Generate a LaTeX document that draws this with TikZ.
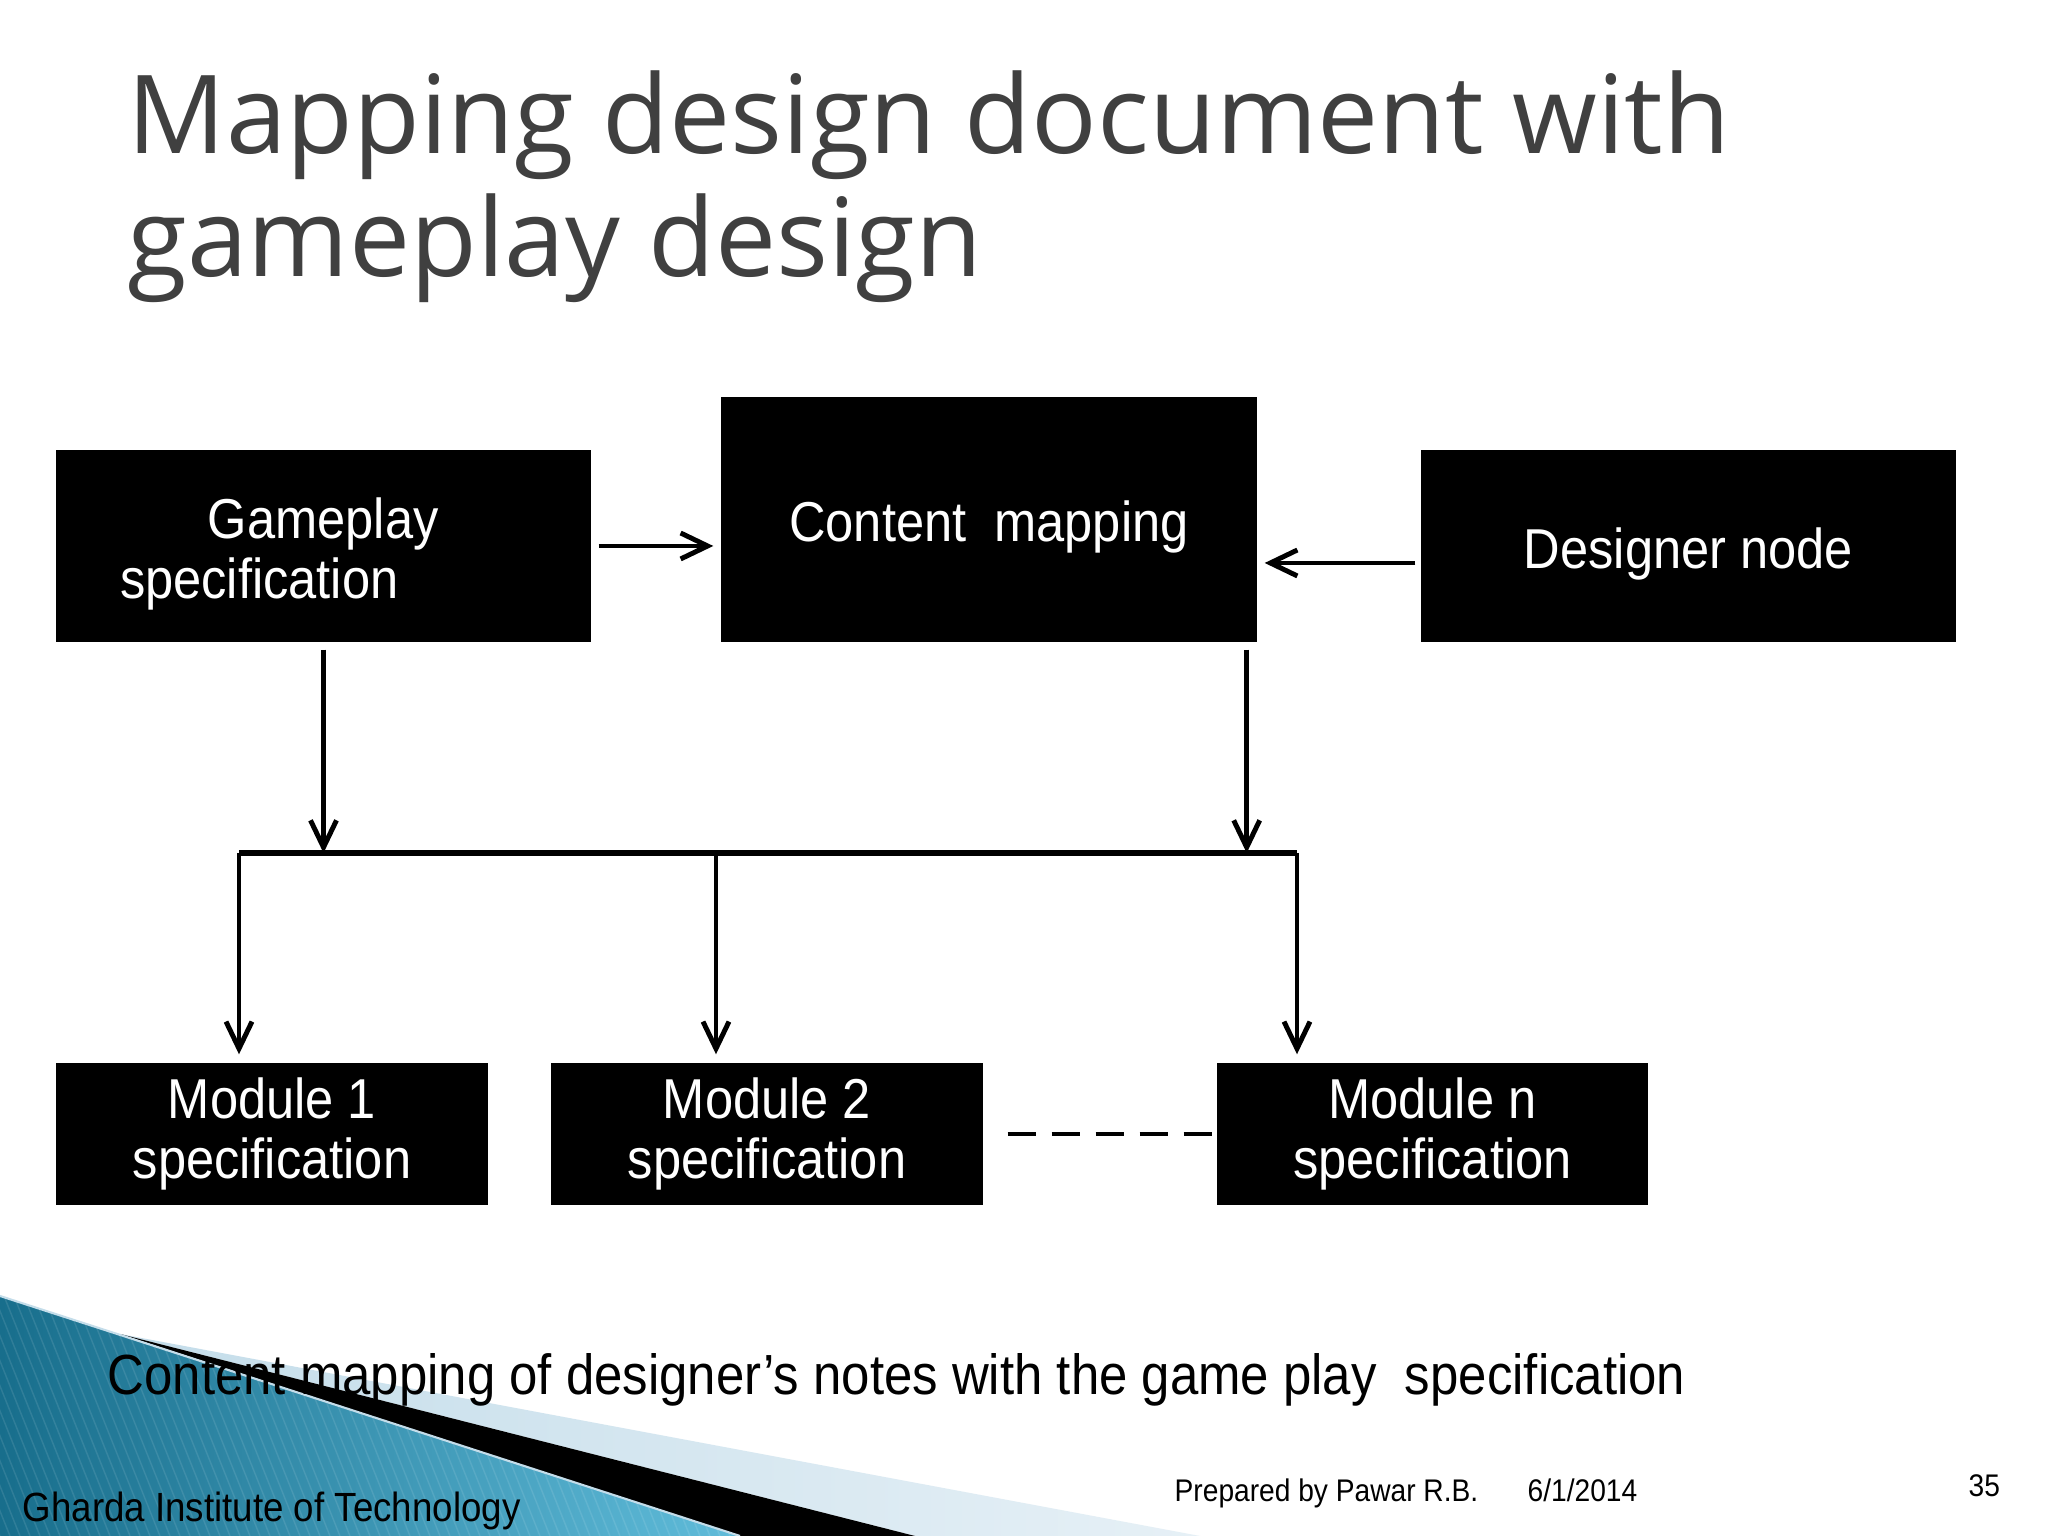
\documentclass[tikz,border=0pt]{standalone}
\usepackage{fontspec}
\setmainfont{Liberation Sans}[FakeStretch=0.9]
\newfontfamily\titlefont{Open Sans}
\usetikzlibrary{arrows.meta}

\definecolor{titlegray}{RGB}{64,64,64}
\definecolor{tealdark}{RGB}{24,110,140}
\definecolor{teallight}{RGB}{96,188,218}
\definecolor{paleblue}{RGB}{196,221,234}
\definecolor{palelight}{RGB}{230,240,246}

\begin{document}
\begin{tikzpicture}[
        box/.style={fill=black,draw=black,text=white,inner sep=0pt,align=center,
            font=\fontsize{16}{17}\selectfont,
            execute at begin node={\rule{0pt}{16.1pt}}},
        bigbox/.style={box,minimum width=5.33cm,minimum height=1.90cm},
        modbox/.style={box,minimum width=4.30cm,minimum height=1.40cm},
        conn/.style={line width=1.4pt,-{Straight Barb[length=0.27cm,width=0.26cm]}},
        foot/.style={inner sep=0pt,anchor=base west}
    ]
    \useasboundingbox (0, 0) rectangle (20.48, 15.36);
    \fill[white] (0, 0) rectangle (20.48, 15.36);

    % Hintergrund unten links
    \shade[left color=tealdark,right color=teallight] (0, 2.40) -- (7.40, 0) -- (0, 0) -- cycle;
    \begin{scope}
        \clip (0, 2.40) -- (7.40, 0) -- (0, 0) -- cycle;
        \foreach \i in {-1.2,-1.1,...,7.5}
            \draw[white,opacity=0.10,line width=0.4pt] (\i, 2.5) -- ++(1.0, -2.5);
    \end{scope}
    \shade[left color=paleblue,right color=palelight] (1.20, 2.02) -- (12.00, 0) -- (9.15, 0) -- cycle;
    \fill[black] (1.20, 2.02) -- (9.15, 0) -- (7.40, 0) -- cycle;
    \draw[paleblue,line width=0.6pt] (0, 2.40) -- (7.40, 0);

    % Titel
    \node[foot,text=titlegray,font=\titlefont\fontsize{31}{36}\selectfont] (title1) at (1.27, 13.82) {Mapping design document with};
    \node[foot,text=titlegray,font=\titlefont\fontsize{31}{36}\selectfont] (title2) at (1.27, 12.59) {gameplay design};

    % Kaesten
    \node[bigbox,text width=4.07cm,inner xsep=0.63cm,align=left] (gameplay) at (3.235, 9.90) {\hspace*{25pt}Gameplay\\specification};
    \node[bigbox,minimum width=5.34cm,minimum height=2.43cm] (content) at (9.89, 10.165) {Content\ \ mapping};
    \node[bigbox] (designer) at (16.885, 9.90) {Designer node};

    \node[modbox] (mod1) at (2.72, 4.02) {Module 1\\specification};
    \node[modbox] (mod2) at (7.67, 4.02) {Module 2\\specification};
    \node[modbox] (modn) at (14.325, 4.02) {Module n\\specification};

    % Verbindungen
    \coordinate (busL) at (2.39, 6.83);
    \coordinate (busM) at (7.16, 6.83);
    \coordinate (busR) at (12.97, 6.83);
    \coordinate (dsgout) at ([yshift=-0.17cm]designer.west);
    \coordinate (cmout) at ([xshift=-0.10cm]content.south east);

    \draw[conn,shorten <=0.08cm,shorten >=0.08cm] (gameplay.east) -- (content.west |- gameplay.east);
    \draw[conn,shorten <=0.06cm,shorten >=0.08cm] (dsgout) -- (content.east |- dsgout);
    \draw[conn,shorten <=0.08cm] (gameplay.south) -- (gameplay.south |- busL);
    \draw[conn,shorten <=0.08cm] (cmout) -- (cmout |- busR);

    \draw[line width=1.85pt] (busL) -- (busR);
    \draw[conn,shorten >=0.09cm] (busL) -- (busL |- mod1.north);
    \draw[conn,shorten >=0.09cm] (busM) -- (busM |- mod2.north);
    \draw[conn,shorten >=0.09cm] (busR) -- (busR |- modn.north);

    \draw[line width=1.4pt,dash pattern=on 0.28cm off 0.16cm,shorten <=0.25cm,shorten >=0.05cm] (mod2.east) -- (modn.west);

    % Beschriftung
    \node[foot,font=\fontsize{16.1}{19}\selectfont] (caption) at (1.07, 1.41) {Content mapping of designer’s notes with the game play\ \ specification};
    \node[foot,font=\fontsize{11.6}{14}\selectfont] (inst) at (0.22, 0.14) {Gharda Institute of Technology};
    \node[foot,font=\fontsize{8.9}{11}\selectfont] (author) at (11.74, 0.34) {Prepared by Pawar R.B.};
    \node[foot,font=\fontsize{8.9}{11}\selectfont] (date) at (15.27, 0.34) {6/1/2014};
    \node[foot,font=\fontsize{8.9}{11}\selectfont] (page) at (19.68, 0.39) {35};
\end{tikzpicture}
\end{document}
